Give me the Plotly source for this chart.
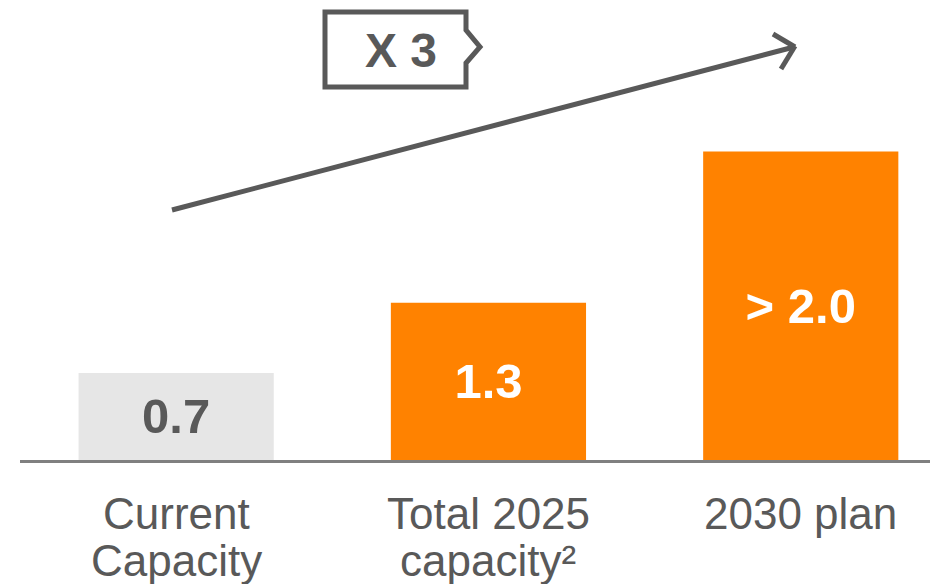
import plotly.graph_objects as go

# ---- data ----
categories = ["Current Capacity", "Total 2025 capacity²", "2030 plan"]
values = [0.72, 1.3, 2.55]
value_labels = ["0.7", "1.3", "> 2.0"]
label_line1 = ["Current", "Total 2025", "2030 plan"]
label_line2 = ["Capacity", "capacity²", ""]
multiplier_text = "X 3"

# ---- style ----
OFF = 8  # default page body margin
W, H = 938 - OFF, 584 - OFF
BASE = 460  # target baseline (page pixels)
ML, MR, MT = 20 - OFF, 0, 0
MB = H - (BASE - OFF)
DARK = "#595959"
ORANGE = "#FF8200"
LIGHT = "#E6E6E6"
FONT = "Liberation Sans, Arial, sans-serif"
bar_colors = [LIGHT, ORANGE, ORANGE]
text_colors = [DARK, "white", "white"]

PW = W - ML - MR
PH = H - MT - MB
PX_PER_UNIT = 121


def px(x):
    return (x - OFF - ML) / PW


def py(y):
    return (MT + PH - (y - OFF)) / PH


fig = go.Figure()
fig.add_trace(go.Bar(
    x=categories,
    y=values,
    width=0.625,
    marker=dict(color=bar_colors, line=dict(width=0)),
    text=value_labels,
    texttemplate="<b>%{text}</b>",
    textposition="inside",
    insidetextanchor="middle",
    textangle=0,
    insidetextfont=dict(family=FONT, size=49, color=text_colors),
    hoverinfo="skip",
))

# category labels (two lines each)
for cat, l1, l2 in zip(categories, label_line1, label_line2):
    fig.add_annotation(x=cat, xref="x", y=py(513), yref="paper", text=l1,
                       showarrow=False, xanchor="center", yanchor="middle",
                       font=dict(family=FONT, size=44, color=DARK))
    if l2:
        fig.add_annotation(x=cat, xref="x", y=py(560), yref="paper", text=l2,
                           showarrow=False, xanchor="center", yanchor="middle",
                           font=dict(family=FONT, size=44, color=DARK))


def line(x0, y0, x1, y1, w=5):
    fig.add_shape(type="line", xref="paper", yref="paper",
                  x0=px(x0), y0=py(y0), x1=px(x1), y1=py(y1),
                  line=dict(color=DARK, width=w))


# growth arrow
line(172, 210, 794, 47)
line(773, 34, 795, 47)
line(781, 69, 795, 46)

# multiplier box with chevron on right side
pts = [(325, 12), (466, 12), (466, 30), (480, 47), (466, 63), (466, 87), (325, 87)]
path = "M " + " L ".join(f"{px(a):.5f},{py(b):.5f}" for a, b in pts) + " Z"
fig.add_shape(type="path", xref="paper", yref="paper", path=path,
              line=dict(color=DARK, width=5), fillcolor="rgba(0,0,0,0)")
fig.add_annotation(x=px(401), y=py(50), xref="paper", yref="paper",
                   text=f"<b>{multiplier_text}</b>", showarrow=False,
                   xanchor="center", yanchor="middle",
                   font=dict(family=FONT, size=48, color=DARK))

fig.update_layout(
    width=W, height=H,
    margin=dict(l=ML, r=MR, t=MT, b=MB, pad=0),
    paper_bgcolor="white", plot_bgcolor="white",
    showlegend=False,
    font=dict(family=FONT),
    xaxis=dict(type="category", range=[-0.5, -0.5 + PW / 312.3],
               showticklabels=False, showgrid=False, zeroline=False,
               showline=True, linecolor="#808080", linewidth=3, ticks=""),
    yaxis=dict(range=[0, PH / PX_PER_UNIT], visible=False,
               showgrid=False, zeroline=False),
)

fig.write_html("out.html")
